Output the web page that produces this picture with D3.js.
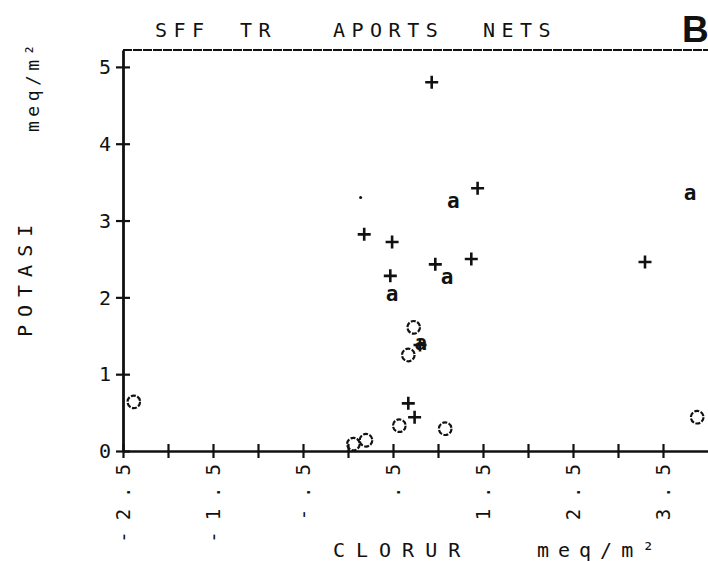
<!DOCTYPE html>
<html><head><meta charset="utf-8">
<script src="https://cdn.jsdelivr.net/npm/d3@7"></script>
<style>
body{margin:0;background:#fff}
svg{display:block}
text{font-family:"DejaVu Sans Mono",monospace;fill:#111}
</style>
</head><body>
<svg id="chart" width="708" height="561"></svg>
<script>
// Net inputs: chloride (x) against potassium (y), meq/m²
const plusX = [0.93, 1.44, 0.18, 0.49, 0.97, 1.37, 0.47, 3.30, 0.67, 0.74, 0.80];
const plusY = [4.80, 3.42, 2.82, 2.72, 2.43, 2.50, 2.28, 2.46, 0.62, 0.44, 1.38];
const aX = [1.17, 1.10, 0.49, 3.80, 0.81];
const aY = [3.24, 2.25, 2.03, 3.35, 1.40];
const oX = [-2.38, 0.73, 0.67, 0.57, 1.08, 0.06, 0.20, 3.88];
const oY = [0.64, 1.61, 1.25, 0.33, 0.29, 0.09, 0.14, 0.44];
const dotX = [0.14];
const dotY = [3.30];
const xTickLabels = ["-2.5", "-1.5", "-.5", ".5", "1.5", "2.5", "3.5"];
const xMinorTicks = [-2, -1, 0, 1, 2, 3];
const yTickLabels = ["0", "1", "2", "3", "4", "5"];
const titleWords = ["SFF", "TR", "APORTS", "NETS"];

const svg = d3.select("#chart");
const x = d3.scaleLinear().domain([-2.5, 4.0]).range([123, 708]);
const y = d3.scaleLinear().domain([0, 5.22]).range([451, 50]);
const ink = "#111";

// frame top
svg.append("line").attr("x1", x(-2.5)).attr("x2", 708)
  .attr("y1", y(5.22)).attr("y2", y(5.22))
  .attr("stroke", ink).attr("stroke-width", 2).attr("stroke-dasharray", "9,1");

// x axis with crossing ticks
const xMajor = xTickLabels.map(Number);
const gx = svg.append("g").attr("transform", `translate(0,${y(0)})`)
  .call(d3.axisBottom(x).tickValues(xMajor.concat(xMinorTicks)).tickSize(7).tickSizeOuter(0).tickFormat(""));
gx.select(".domain").attr("stroke", ink).attr("stroke-width", 2.4);
gx.selectAll(".tick line").attr("y1", -7).attr("stroke", ink).attr("stroke-width", 2.2);

// y axis with crossing ticks
const gy = svg.append("g").attr("transform", `translate(${x(-2.5)},0)`)
  .call(d3.axisLeft(y).tickValues(yTickLabels.map(Number)).tickSize(7).tickSizeOuter(0).tickFormat(""));
gy.select(".domain").attr("stroke", ink).attr("stroke-width", 2.8);
gy.selectAll(".tick line").attr("x1", 7).attr("stroke", ink).attr("stroke-width", 2.2);

// y tick labels
svg.selectAll(".ylab").data(yTickLabels).join("text")
  .attr("x", 111).attr("y", d => y(+d)).attr("dy", "0.36em")
  .attr("text-anchor", "end").attr("font-size", 20).text(d => d);

// x tick labels, written upward
svg.selectAll(".xlab").data(xTickLabels).join("text")
  .attr("transform", d => `translate(${x(+d)},${y(0) + 2}) rotate(-90)`)
  .attr("text-anchor", "end").attr("dominant-baseline", "central")
  .attr("font-size", 19).attr("letter-spacing", 11).text(d => d);

// title
const titleX = [155, 240, 333, 483];
svg.selectAll(".title").data(titleWords).join("text")
  .attr("x", (d, i) => titleX[i]).attr("y", 37)
  .attr("font-size", 20).attr("letter-spacing", 6.5).text(d => d);
svg.append("text").attr("x", 682).attr("y", 42)
  .style("font-family", "'Liberation Sans', Arial, sans-serif")
  .attr("font-weight", "bold").attr("font-size", 37).text("B");

// axis titles
svg.append("text").attr("transform", "translate(32,337) rotate(-90)")
  .attr("font-size", 20).attr("letter-spacing", 8).text("POTASI");
svg.append("text").attr("transform", "translate(39,132) rotate(-90)")
  .attr("font-size", 18).attr("letter-spacing", 4.5).text("meq/m²");
svg.append("text").attr("x", 333).attr("y", 557)
  .attr("font-size", 20).attr("letter-spacing", 11).text("CLORUR");
svg.append("text").attr("x", 537).attr("y", 557)
  .attr("font-size", 20).attr("letter-spacing", 9).text("meq/m²");

// "+" series
const plus = d3.zip(plusX, plusY);
svg.append("g").selectAll("path").data(plus).join("path")
  .attr("d", d => `M${x(d[0]) - 6.5},${y(d[1])}h13M${x(d[0])},${y(d[1]) - 6.5}v13`)
  .attr("stroke", ink).attr("stroke-width", 2.6).attr("fill", "none");

// "a" series
const aPts = d3.zip(aX, aY);
svg.append("g").selectAll("text").data(aPts).join("text")
  .attr("x", d => x(d[0])).attr("y", d => y(d[1])).attr("dy", "0.3em")
  .attr("text-anchor", "middle").attr("font-size", 21).attr("font-weight", "bold").text("a");

// "o" series
const oPts = d3.zip(oX, oY);
svg.append("g").selectAll("circle").data(oPts).join("circle")
  .attr("cx", d => x(d[0])).attr("cy", d => y(d[1])).attr("r", 6.3)
  .attr("fill", "none").attr("stroke", ink).attr("stroke-width", 2.2)
  .attr("stroke-dasharray", "5,1.5");

// single dot
svg.append("g").selectAll("circle").data(d3.zip(dotX, dotY)).join("circle")
  .attr("cx", d => x(d[0])).attr("cy", d => y(d[1])).attr("r", 1.5).attr("fill", ink);
</script>
</body></html>
